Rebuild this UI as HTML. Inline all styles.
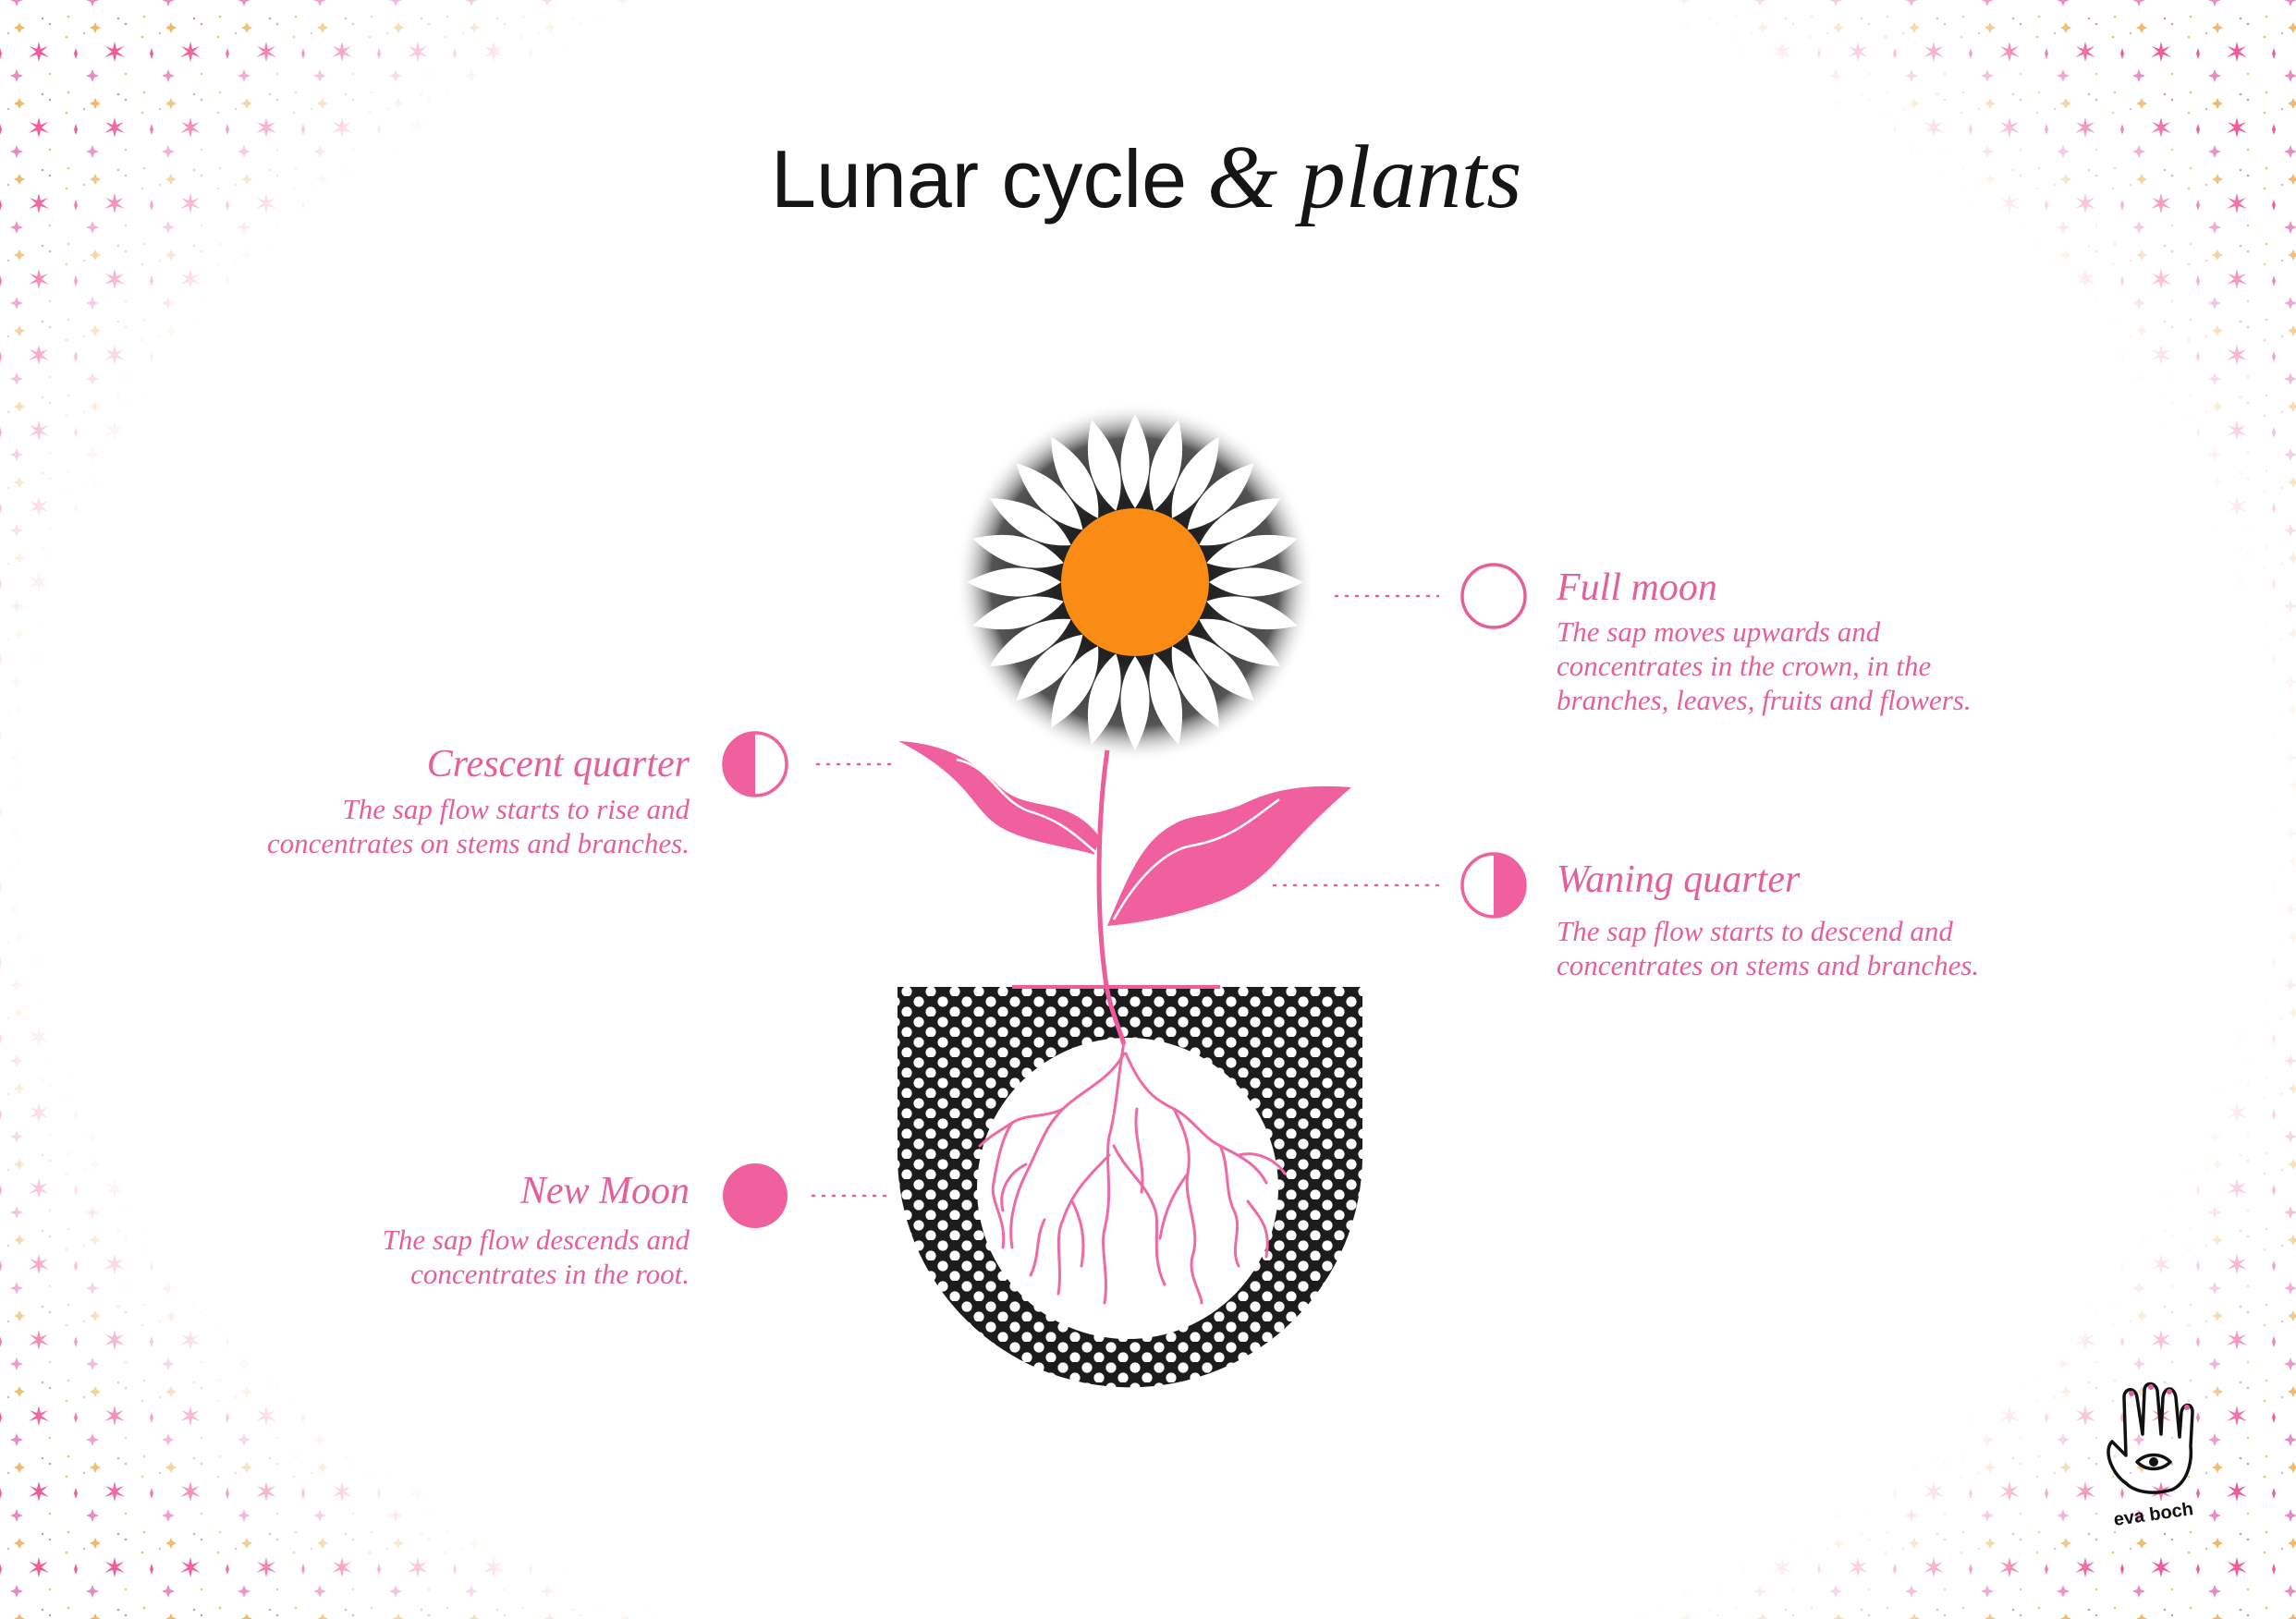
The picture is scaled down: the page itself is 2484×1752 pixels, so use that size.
<!DOCTYPE html>
<html><head><meta charset="utf-8">
<style>
html,body{margin:0;padding:0;overflow:hidden;}
body{width:2484px;height:1752px;overflow:hidden;background:#fff;position:relative;font-family:"Liberation Serif",serif;}
svg{position:absolute;left:0;top:0;}
.t{position:absolute;color:#e4609c;font-style:italic;font-family:"Liberation Serif",serif;white-space:nowrap;}
.h{font-size:42px;}
.b{font-size:31px;line-height:37px;}
.r{text-align:right;}
</style></head><body>
<svg width="2484" height="1752" viewBox="0 0 2484 1752">
<defs>
<pattern id="sp" width="82" height="82" patternUnits="userSpaceOnUse">
 <g fill="#ee5c9c">
  <path d="M42 45 L44 53 L52 50 L45 56 L53 62 L44 59 L42 67 L40 59 L31 62 L39 56 L32 50 L40 53 Z"/>
  <path d="M0 52 L2 58 L0 64 L-2 58 Z M82 52 L84 58 L82 64 L80 58 Z"/>
 </g>
 <g fill="#e98ac4">
  <path d="M18 -7 L20 -2 L25 0 L20 2 L18 7 L16 2 L11 0 L16 -2 Z M18 75 L20 80 L25 82 L20 84 L18 89 L16 84 L11 82 L16 80 Z"/>
 </g>
 <path d="M21 24 L23 28 L27 30 L23 32 L21 36 L19 32 L15 30 L19 28 Z" fill="#efb86a"/>
 <circle cx="46" cy="20" r="1.3" fill="#c9a0b0"/><circle cx="54" cy="26" r="1.3" fill="#c9a0b0"/>
 <circle cx="74" cy="18" r="1.3" fill="#e8c070"/><circle cx="72" cy="40" r="1.3" fill="#e8c070"/>
 <circle cx="9" cy="36" r="1.2" fill="#d8b0c0"/><circle cx="54" cy="80" r="1.2" fill="#e8c070"/>
</pattern>
<radialGradient id="fade" cx="50%" cy="50%" r="50%">
 <stop offset="0" stop-color="#fff"/><stop offset="0.78" stop-color="#fff"/><stop offset="0.95" stop-color="#fff" stop-opacity="0"/>
</radialGradient>
<pattern id="dots" width="26" height="22" patternUnits="userSpaceOnUse">
 <rect width="26" height="22" fill="#1c1c1c"/>
 <circle cx="6" cy="6" r="5.6" fill="#fff"/><circle cx="19" cy="17" r="5.6" fill="#fff"/>
</pattern>
<radialGradient id="glow" cx="50%" cy="50%" r="50%">
 <stop offset="0.45" stop-color="#222"/><stop offset="0.8" stop-color="#555"/><stop offset="1" stop-color="#fff" stop-opacity="0"/>
</radialGradient>
</defs>
<rect width="2484" height="1752" fill="url(#sp)"/>
<ellipse cx="1242" cy="876" rx="1560" ry="1230" fill="url(#fade)"/>

<!-- flower -->
<circle cx="1228" cy="630" r="195" fill="url(#glow)"/>
<g fill="#fff" transform="translate(1228 630)">
 <g id="pt"><path d="M0 -182 C 17 -150 24 -115 0 -80 C -24 -115 -17 -150 0 -182 Z"/></g>
 <use href="#pt" transform="rotate(15)"/><use href="#pt" transform="rotate(30)"/><use href="#pt" transform="rotate(45)"/>
 <use href="#pt" transform="rotate(60)"/><use href="#pt" transform="rotate(75)"/><use href="#pt" transform="rotate(90)"/>
 <use href="#pt" transform="rotate(105)"/><use href="#pt" transform="rotate(120)"/><use href="#pt" transform="rotate(135)"/>
 <use href="#pt" transform="rotate(150)"/><use href="#pt" transform="rotate(165)"/><use href="#pt" transform="rotate(180)"/>
 <use href="#pt" transform="rotate(195)"/><use href="#pt" transform="rotate(210)"/><use href="#pt" transform="rotate(225)"/>
 <use href="#pt" transform="rotate(240)"/><use href="#pt" transform="rotate(255)"/><use href="#pt" transform="rotate(270)"/>
 <use href="#pt" transform="rotate(285)"/><use href="#pt" transform="rotate(300)"/><use href="#pt" transform="rotate(315)"/>
 <use href="#pt" transform="rotate(330)"/><use href="#pt" transform="rotate(345)"/>
</g>
<circle cx="1228" cy="630" r="80" fill="#fa8c16"/>

<!-- pot -->
<path d="M971 1068 H1474 V1250 A251.5 251.5 0 0 1 971 1250 Z" fill="url(#dots)"/>
<circle cx="1220" cy="1286" r="163" fill="#fff"/>
<line x1="1095" y1="1068" x2="1320" y2="1068" stroke="#ee5c9c" stroke-width="4"/>

<!-- stem & leaves -->
<path d="M1198 812 C 1188 880 1185 980 1196 1060 C 1200 1090 1210 1110 1216 1130" stroke="#ee5c9c" stroke-width="5" fill="none"/>
<path d="M972 802 C 1030 805 1060 830 1080 850 C 1110 880 1150 860 1185 900 C 1195 910 1180 925 1185 925 C 1150 915 1100 910 1075 890 C 1050 870 1045 840 972 802 Z" fill="#f0609e"/>
<path d="M1035 822 C 1075 830 1080 870 1120 880 C 1150 890 1165 905 1185 922" stroke="#fff" stroke-width="2.5" fill="none"/>
<path d="M1462 852 C 1410 848 1375 855 1345 870 C 1310 885 1290 880 1270 892 C 1235 910 1220 950 1198 1002 C 1240 998 1275 990 1305 980 C 1345 968 1365 950 1385 928 C 1410 900 1430 880 1462 852 Z" fill="#f0609e"/>
<path d="M1384 865 C 1350 890 1330 908 1290 915 C 1260 920 1230 950 1205 995" stroke="#fff" stroke-width="2.5" fill="none"/>

<!-- roots -->
<g stroke="#ef69a6" stroke-width="3" fill="none" stroke-linecap="round">
 <path d="M1216 1128 C 1210 1160 1208 1200 1200 1230 C 1195 1260 1205 1290 1195 1330 C 1190 1350 1200 1380 1195 1410"/>
 <path d="M1216 1140 C 1200 1170 1170 1180 1150 1200 C 1130 1220 1125 1240 1110 1270 C 1100 1290 1090 1320 1095 1350"/>
 <path d="M1218 1140 C 1235 1180 1250 1190 1270 1200 C 1290 1210 1300 1230 1320 1240 C 1340 1250 1360 1260 1370 1280"/>
 <path d="M1150 1200 C 1130 1210 1110 1205 1095 1215 C 1085 1230 1080 1250 1075 1280 C 1070 1300 1090 1320 1085 1350"/>
 <path d="M1270 1200 C 1280 1220 1290 1240 1285 1270 C 1280 1300 1300 1330 1290 1360 C 1285 1380 1300 1400 1300 1410"/>
 <path d="M1205 1240 C 1220 1270 1240 1280 1250 1310 C 1255 1330 1245 1360 1260 1390"/>
 <path d="M1110 1260 C 1090 1270 1080 1290 1085 1310 M1095 1215 C 1080 1225 1070 1230 1060 1240"/>
 <path d="M1200 1250 C 1180 1270 1160 1290 1150 1320 C 1140 1340 1150 1370 1145 1400"/>
 <path d="M1320 1240 C 1330 1260 1325 1290 1335 1310 C 1345 1330 1330 1350 1340 1370"/>
 <path d="M1340 1250 C 1360 1245 1380 1255 1390 1270 M1350 1300 C 1365 1320 1375 1330 1370 1360"/>
 <path d="M1285 1270 C 1270 1290 1260 1310 1255 1340"/>
 <path d="M1230 1200 C 1225 1230 1240 1260 1235 1290"/>
 <path d="M1160 1300 C 1170 1320 1175 1340 1170 1370 M1130 1320 C 1120 1340 1125 1360 1115 1380"/>
</g>

<!-- connectors -->
<g stroke="#e4609c" stroke-width="2.5" stroke-dasharray="2 9" stroke-linecap="round">
 <line x1="1445" y1="645" x2="1556" y2="645"/>
 <line x1="884" y1="827" x2="969" y2="827"/>
 <line x1="1378" y1="958" x2="1556" y2="958"/>
 <line x1="879" y1="1294" x2="961" y2="1294"/>
</g>

<!-- moons -->
<circle cx="1616" cy="645" r="34" fill="none" stroke="#e4609c" stroke-width="3.5"/>
<circle cx="817" cy="827" r="34" fill="#fff" stroke="#f0609e" stroke-width="3.5"/>
<path d="M817 793 A34 34 0 0 0 817 861 Z" fill="#f0609e"/>
<circle cx="1616" cy="958" r="34" fill="#fff" stroke="#f0609e" stroke-width="3.5"/>
<path d="M1616 924 A34 34 0 0 1 1616 992 Z" fill="#f0609e"/>
<circle cx="817" cy="1294" r="35" fill="#f0609e"/>

<!-- hand logo -->
<g stroke="#111" stroke-width="3.5" fill="none" stroke-linecap="round" stroke-linejoin="round">
 <path d="M2285 1560 C 2275 1570 2285 1595 2300 1605 C 2310 1615 2330 1618 2350 1612 C 2365 1605 2372 1585 2370 1565 L 2372 1528 C 2372 1518 2362 1518 2360 1528 L 2358 1555 L 2354 1512 C 2352 1500 2342 1500 2340 1512 L 2338 1552 L 2334 1505 C 2332 1495 2320 1495 2320 1505 L 2318 1552 L 2312 1512 C 2310 1500 2298 1502 2298 1512 L 2300 1575 Z"/>
 <path d="M2312 1582 C 2322 1572 2338 1572 2348 1582 C 2338 1592 2322 1592 2312 1582 Z"/>
</g>
<circle cx="2330" cy="1582" r="5" fill="#111"/>
<g fill="#e4609c"><circle cx="2306" cy="1508" r="3"/><circle cx="2327" cy="1501" r="3"/><circle cx="2347" cy="1506" r="3"/><circle cx="2366" cy="1523" r="3"/></g>
<text x="2330" y="1645" font-family="Liberation Sans, sans-serif" font-weight="bold" font-size="20" text-anchor="middle" fill="#111" transform="rotate(-8 2330 1640)">eva boch</text>
</svg>

<div style="position:absolute;left:834px;top:132px;height:120px;font-size:88px;line-height:120px;color:#151515;white-space:nowrap;"><span style="font-family:'Liberation Sans',sans-serif;">Lunar cycle</span> <span style="font-family:'Liberation Serif',serif;font-style:italic;font-size:98px;">&amp; plants</span></div>

<div class="t h" style="left:1684px;top:612px;">Full moon</div>
<div class="t b" style="left:1684px;top:665px;">The sap moves upwards and<br>concentrates in the crown, in the<br>branches, leaves, fruits and flowers.</div>

<div class="t h r" style="right:1738px;top:803px;">Crescent quarter</div>
<div class="t b r" style="right:1738px;top:857px;">The sap flow starts to rise and<br>concentrates on stems and branches.</div>

<div class="t h" style="left:1684px;top:928px;">Waning quarter</div>
<div class="t b" style="left:1684px;top:989px;">The sap flow starts to descend and<br>concentrates on stems and branches.</div>

<div class="t h r" style="right:1738px;top:1265px;">New Moon</div>
<div class="t b r" style="right:1738px;top:1323px;">The sap flow descends and<br>concentrates in the root.</div>
</body></html>
